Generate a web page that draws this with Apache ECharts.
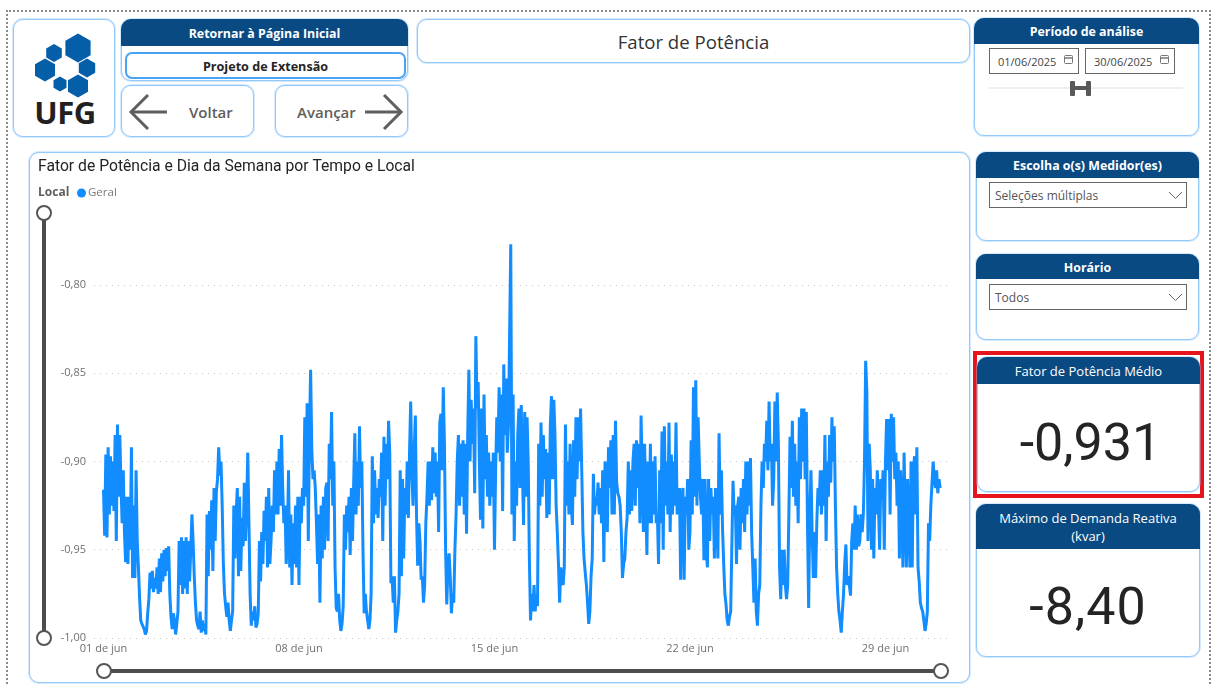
<!DOCTYPE html>
<html lang="pt-BR">
<head>
<meta charset="utf-8">
<title>Fator de Potência</title>
<script src="https://cdn.jsdelivr.net/npm/echarts@6/dist/echarts.min.js"></script>
<style>
html,body{margin:0;padding:0;background:#fff;width:1212px;height:684px;overflow:hidden;font-family:"Open Sans",sans-serif;}
.abs,.panel,.head,.campo{position:absolute;box-sizing:border-box;}
.moldura{position:absolute;left:6px;top:10px;width:1205px;height:690px;border:2px dotted #8a8a8a;box-sizing:border-box;}
.panel{border:1px solid #93c8fb;border-radius:10px;background:#fff;box-shadow:0 0 0 1px rgba(147,200,251,.4);}
.head{left:-1px;right:-1px;top:-1px;background:#0a4a83;color:#fff;border-radius:10px 10px 0 0;text-align:center;font-weight:700;font-size:12.4px;display:flex;align-items:center;justify-content:center;line-height:18px;padding-top:2px;}
.head.leve{font-weight:400;font-size:13px;padding-top:0;}
.campo{border:1px solid #666;border-bottom-width:1.5px;background:#fff;font-size:12px;color:#555;display:flex;align-items:center;padding-left:5px;padding-top:1px;}
.num{position:absolute;left:0;right:0;text-align:center;font-family:Roboto,sans-serif;font-size:52px;color:#252423;line-height:60px;}
#chart{position:absolute;left:29px;top:152px;width:941px;height:531px;}
</style>
</head>
<body>
<div class="moldura"></div>

<div class="panel" style="left:13px;top:19px;width:102px;height:118px">
  <svg id="logo" width="100" height="116" style="position:absolute;left:-1px;top:-1px"></svg>
  <div class="abs" style="left:16px;top:73px;width:70px;text-align:center;font:700 31px/38px 'Open Sans',sans-serif;color:#231f20;letter-spacing:-.5px">UFG</div>
</div>

<div class="panel" style="left:121px;top:19px;width:287px;height:62px">
  <div class="head" style="height:27px">Retornar à Página Inicial</div>
  <div class="abs" style="left:3px;top:32px;width:281px;height:27px;border:2px solid #4aa2f5;border-radius:7px;text-align:center;font-weight:700;font-size:12.6px;line-height:25px;color:#252423">Projeto de Extensão</div>
</div>

<div class="panel" style="left:121px;top:85px;width:133px;height:52px">
  <svg width="40" height="40" style="position:absolute;left:6px;top:6px"><polyline points="20,3 3,20 20,37" fill="none" stroke="#605e5c" stroke-width="3"/><line x1="3" y1="20" x2="39" y2="20" stroke="#605e5c" stroke-width="3"/></svg>
  <div class="abs" style="left:67px;top:15px;font-weight:600;font-size:15px;line-height:22px;color:#605e5c">Voltar</div>
</div>
<div class="panel" style="left:275px;top:85px;width:133px;height:52px">
  <div class="abs" style="left:21px;top:15px;font-weight:600;font-size:15px;line-height:22px;color:#605e5c">Avançar</div>
  <svg width="40" height="40" style="position:absolute;left:88px;top:6px"><polyline points="20,3 37,20 20,37" fill="none" stroke="#605e5c" stroke-width="3"/><line x1="1" y1="20" x2="37" y2="20" stroke="#605e5c" stroke-width="3"/></svg>
</div>

<div class="panel" style="left:417px;top:19px;width:553px;height:44px;text-align:center;font-size:18.6px;line-height:43px;color:#333">Fator de Potência</div>

<div class="panel" style="left:974px;top:18px;width:225px;height:118px">
  <div class="head" style="height:26px">Período de análise</div>
  <div class="campo" style="left:14px;top:29px;width:90px;height:26px;font-size:11px;padding-left:8px;color:#444">01/06/2025</div>
  <div class="campo" style="left:110px;top:29px;width:90px;height:26px;font-size:11px;padding-left:8px;color:#444">30/06/2025</div>
  <svg width="12" height="12" style="position:absolute;left:88px;top:35px"><rect x="1.5" y="1.5" width="8" height="8" rx="1" fill="#fff" stroke="#777"/><line x1="1.5" y1="4" x2="9.5" y2="4" stroke="#777" stroke-width="1.5"/></svg>
  <svg width="12" height="12" style="position:absolute;left:184px;top:35px"><rect x="1.5" y="1.5" width="8" height="8" rx="1" fill="#fff" stroke="#777"/><line x1="1.5" y1="4" x2="9.5" y2="4" stroke="#777" stroke-width="1.5"/></svg>
  <div class="abs" style="left:14px;top:68px;width:194px;height:2px;background:#eeeeee"></div>
  <div class="abs" style="left:95px;top:62px;width:5px;height:15px;background:#595959;border-radius:1px"></div>
  <div class="abs" style="left:111px;top:62px;width:5px;height:15px;background:#595959;border-radius:1px"></div>
  <div class="abs" style="left:98px;top:67px;width:15px;height:4px;background:#595959"></div>
</div>

<div class="panel" style="left:976px;top:152px;width:223px;height:89px">
  <div class="head" style="height:26px">Escolha o(s) Medidor(es)</div>
  <div class="campo" style="left:12px;top:29px;width:198px;height:26px">Seleções múltiplas</div>
  <svg width="16" height="10" style="position:absolute;left:191px;top:38px"><polyline points="1,1 7.5,7.5 14,1" fill="none" stroke="#666" stroke-width="1"/></svg>
</div>

<div class="panel" style="left:976px;top:254px;width:223px;height:86px">
  <div class="head" style="height:25px">Horário</div>
  <div class="campo" style="left:12px;top:29px;width:198px;height:26px">Todos</div>
  <svg width="16" height="10" style="position:absolute;left:191px;top:38px"><polyline points="1,1 7.5,7.5 14,1" fill="none" stroke="#666" stroke-width="1"/></svg>
</div>

<div class="abs" style="left:973px;top:351px;width:231px;height:147px;border:4px solid #e8141c"></div>
<div class="panel" style="left:977px;top:357px;width:223px;height:135px">
  <div class="head leve" style="height:27px">Fator de Potência Médio</div>
  <div class="num" style="top:55px;padding-left:4px">-0,931</div>
</div>

<div class="panel" style="left:976px;top:504px;width:224px;height:153px">
  <div class="head leve" style="height:45px">Máximo de Demanda Reativa<br>(kvar)</div>
  <div class="num" style="top:72px;letter-spacing:1px">-8,40</div>
</div>

<div class="panel" style="left:29px;top:152px;width:941px;height:531px"></div>
<div id="chart"></div>

<script>
// leitura do grafico: uma lista por dia, uma leitura por hora
var dia01=[-.916,-.942,-.896,-.943,-.892,-.930,-.897,-.925,-.900,-.928,-.885,-.945,-.879,-.920,-.885,-.912,-.935,-.905,-.940,-.957,-.920,-.958,-.920,-.950]
var dia02=[-.892,-.966,-.925,-.966,-.905,-.945,-.960,-.977,-.990,-.992,-.993,-.995,-.998,-.996,-.986,-.978,-.963,-.972,-.962,-.974,-.966,-.972,-.960,-.975]
var dia03=[-.955,-.974,-.952,-.968,-.950,-.965,-.949,-.962,-.948,-.975,-.988,-.995,-.986,-.990,-.998,-.992,-.985,-.945,-.970,-.943,-.975,-.945,-.972,-.943]
var dia04=[-.975,-.945,-.968,-.950,-.930,-.945,-.965,-.980,-.990,-.993,-.995,-.985,-.997,-.990,-.996,-.992,-.998,-.930,-.965,-.928,-.950,-.922,-.962,-.915]
var dia05=[-.945,-.917,-.910,-.892,-.908,-.900,-.925,-.958,-.975,-.982,-.988,-.980,-.990,-.996,-.990,-.985,-.925,-.955,-.930,-.915,-.965,-.920,-.962,-.932]
var dia06=[-.948,-.912,-.945,-.925,-.895,-.935,-.975,-.993,-.985,-.990,-.982,-.994,-.992,-.986,-.945,-.968,-.940,-.958,-.928,-.945,-.920,-.960,-.915,-.958]
var dia07=[-.945,-.925,-.940,-.905,-.930,-.900,-.930,-.893,-.925,-.885,-.915,-.935,-.925,-.958,-.945,-.905,-.960,-.930,-.970,-.935,-.958,-.925,-.960,-.920]
var dia08=[-.970,-.920,-.935,-.915,-.925,-.875,-.920,-.867,-.945,-.885,-.848,-.893,-.910,-.905,-.915,-.935,-.958,-.930,-.980,-.925,-.955,-.920,-.950,-.915]
var dia09=[-.912,-.945,-.890,-.910,-.872,-.925,-.900,-.960,-.983,-.985,-.975,-.990,-.996,-.992,-.982,-.930,-.950,-.925,-.940,-.920,-.953,-.915,-.945,-.912]
var dia10=[-.884,-.930,-.900,-.925,-.880,-.915,-.900,-.950,-.986,-.975,-.985,-.990,-.995,-.990,-.975,-.897,-.935,-.905,-.930,-.915,-.932,-.910,-.920,-.895]
var dia11=[-.945,-.886,-.925,-.890,-.910,-.877,-.895,-.969,-.965,-.980,-.965,-.997,-.990,-.985,-.975,-.905,-.965,-.910,-.955,-.915,-.930,-.900,-.932,-.895]
var dia12=[-.866,-.905,-.925,-.895,-.874,-.930,-.959,-.935,-.945,-.967,-.965,-.980,-.970,-.935,-.920,-.900,-.925,-.900,-.922,-.892,-.918,-.895,-.920,-.900]
var dia13=[-.940,-.878,-.873,-.905,-.858,-.890,-.950,-.981,-.960,-.952,-.965,-.986,-.975,-.980,-.950,-.930,-.900,-.885,-.925,-.890,-.920,-.888,-.930,-.890]
var dia14=[-.941,-.885,-.848,-.900,-.865,-.890,-.870,-.918,-.829,-.870,-.855,-.900,-.933,-.870,-.938,-.862,-.910,-.885,-.920,-.895,-.925,-.900,-.920,-.895]
var dia15=[-.950,-.905,-.875,-.895,-.858,-.900,-.862,-.928,-.845,-.885,-.853,-.895,-.880,-.880,-.777,-.930,-.862,-.945,-.900,-.925,-.885,-.870,-.915,-.868]
var dia16=[-.905,-.936,-.872,-.920,-.875,-.900,-.955,-.990,-.975,-.985,-.970,-.985,-.975,-.982,-.890,-.925,-.878,-.920,-.885,-.910,-.893,-.932,-.895,-.930]
var dia17=[-.880,-.863,-.910,-.865,-.885,-.925,-.940,-.958,-.980,-.960,-.965,-.970,-.960,-.879,-.925,-.900,-.930,-.890,-.925,-.936,-.888,-.920,-.875,-.910]
var dia18=[-.875,-.900,-.870,-.905,-.940,-.955,-.963,-.970,-.980,-.992,-.985,-.965,-.955,-.907,-.930,-.920,-.925,-.912,-.930,-.915,-.935,-.905,-.957,-.900]
var dia19=[-.905,-.940,-.892,-.915,-.888,-.930,-.885,-.930,-.877,-.912,-.918,-.920,-.925,-.940,-.966,-.958,-.955,-.940,-.932,-.900,-.930,-.905,-.928,-.900]
var dia20=[-.890,-.925,-.888,-.915,-.890,-.935,-.874,-.910,-.940,-.890,-.920,-.953,-.900,-.935,-.890,-.935,-.900,-.930,-.897,-.935,-.930,-.958,-.905,-.935]
var dia21=[-.883,-.950,-.880,-.925,-.900,-.930,-.878,-.940,-.896,-.930,-.900,-.925,-.878,-.930,-.920,-.915,-.967,-.920,-.915,-.967,-.920,-.930,-.910,-.950]
var dia22=[-.940,-.888,-.930,-.858,-.920,-.854,-.925,-.875,-.900,-.920,-.930,-.910,-.956,-.910,-.950,-.960,-.910,-.945,-.915,-.930,-.920,-.955,-.915,-.930]
var dia23=[-.955,-.884,-.930,-.905,-.938,-.958,-.975,-.981,-.990,-.993,-.988,-.985,-.985,-.911,-.930,-.925,-.958,-.925,-.920,-.950,-.915,-.935,-.910,-.940]
var dia24=[-.900,-.930,-.900,-.925,-.898,-.940,-.960,-.980,-.955,-.985,-.993,-.975,-.970,-.925,-.900,-.915,-.890,-.900,-.877,-.905,-.866,-.900,-.890,-.925]
var dia25=[-.910,-.866,-.900,-.861,-.890,-.960,-.978,-.950,-.970,-.950,-.970,-.978,-.970,-.930,-.886,-.915,-.877,-.920,-.890,-.925,-.900,-.935,-.875,-.910]
var dia26=[-.870,-.900,-.870,-.910,-.872,-.935,-.983,-.930,-.905,-.940,-.966,-.940,-.966,-.935,-.915,-.925,-.905,-.930,-.905,-.925,-.885,-.945,-.900,-.920]
var dia27=[-.885,-.912,-.875,-.900,-.880,-.925,-.960,-.975,-.985,-.990,-.997,-.985,-.975,-.958,-.947,-.970,-.965,-.970,-.976,-.945,-.935,-.950,-.925,-.950]
var dia28=[-.930,-.948,-.945,-.930,-.940,-.930,-.900,-.843,-.860,-.945,-.890,-.905,-.950,-.910,-.955,-.915,-.930,-.905,-.925,-.950,-.910,-.920,-.905,-.950]
var dia29=[-.900,-.876,-.905,-.876,-.930,-.873,-.900,-.875,-.910,-.895,-.925,-.900,-.955,-.905,-.925,-.960,-.895,-.930,-.960,-.910,-.930,-.960,-.900,-.960]
var dia30=[-.905,-.897,-.930,-.892,-.960,-.968,-.980,-.983,-.985,-.990,-.996,-.992,-.985,-.935,-.945,-.925,-.925,-.900,-.910,-.915,-.905,-.918,-.910,-.915]
var dias=[dia01,dia02,dia03,dia04,dia05,dia06,dia07,dia08,dia09,dia10,dia11,dia12,dia13,dia14,dia15,dia16,dia17,dia18,dia19,dia20,dia21,dia22,dia23,dia24,dia25,dia26,dia27,dia28,dia29,dia30]
var ticksX=[0,7,14,21,28]
var rotulosX=['01 de jun','08 de jun','15 de jun','22 de jun','29 de jun']
var rotulosY=[-1,-.95,-.9,-.85,-.8]

// logo
var hexas=[[78,48,14.5],[54,53,9],[45,70,11.5],[87,68,9.5],[60,84,7.5],[78,86,11.5]]
var svgLogo=''
hexas.forEach(function(h){
    var pts=[]
    for(var i=0;i<6;i++){
        var a=Math.PI/3*i+Math.PI/6
        pts.push((h[0]-13+h[2]*Math.cos(a)).toFixed(1)+','+(h[1]-19+h[2]*Math.sin(a)).toFixed(1))
    }
    svgLogo+='<polygon points="'+pts.join(' ')+'" fill="#045ea8"/>'
})
document.getElementById('logo').innerHTML=svgLogo

// x em dias desde 01/06
var linha=[]
dias.forEach(function(lista,d){
    lista.forEach(function(v,h){
        linha.push([d+h/24,v])
    })
})

var chart=echarts.init(document.getElementById('chart'))
chart.setOption({
    animation:false,
    textStyle:{fontFamily:'"Open Sans",sans-serif'},
    title:{
        text:'Fator de Potência e Dia da Semana por Tempo e Local',
        left:4,top:2,
        textStyle:{fontFamily:'Roboto,sans-serif',fontWeight:400,fontSize:15.7,color:'#252423'}
    },
    legend:{
        data:['Geral'],
        left:43,top:30,
        icon:'circle',itemWidth:9,itemHeight:9,itemGap:3,
        textStyle:{fontSize:11.5,color:'#7a7a7a',padding:[0,0,0,-3]}
    },
    graphic:[{
        type:'text',left:9,top:35,
        style:{text:'Local',font:'700 12px "Open Sans",sans-serif',fill:'#605e5c'}
    }],
    grid:{left:65,top:80,width:854,height:406},
    xAxis:{
        type:'value',
        min:-.34,max:30.24,
        axisLine:{show:false},
        axisTick:{show:false},
        splitLine:{show:false},
        axisLabel:{
            customValues:ticksX,
            margin:5,fontSize:11,color:'#6f6f6f',
            formatter:function(v){return rotulosX[ticksX.indexOf(v)]}
        }
    },
    yAxis:{
        type:'value',
        min:-1,max:-.77,
        axisLine:{show:false},
        axisTick:{show:false},
        splitLine:{show:true,showMaxLine:false,lineStyle:{type:[1,5],color:'#c8c8c8',width:1}},
        axisLabel:{
            customValues:rotulosY,
            margin:8,fontSize:11,color:'#6f6f6f',
            formatter:function(v){return v.toFixed(2).replace('.',',')}
        }
    },
    dataZoom:[{
        type:'slider',xAxisIndex:0,filterMode:'none',
        left:72,width:839,top:517,height:4,
        showDetail:false,showDataShadow:false,brushSelect:false,
        moveHandleSize:0,
        handleIcon:'circle',handleSize:14,
        handleStyle:{color:'#fff',borderColor:'#555',borderWidth:2},
        fillerColor:'#4d4d4d',backgroundColor:'#4d4d4d',borderColor:'transparent'
    },{
        type:'slider',yAxisIndex:0,orient:'vertical',filterMode:'none',
        left:12,width:4,top:60,height:427,
        showDetail:false,showDataShadow:false,brushSelect:false,
        moveHandleSize:0,
        handleIcon:'circle',handleSize:14,
        handleStyle:{color:'#fff',borderColor:'#555',borderWidth:2},
        fillerColor:'#4d4d4d',backgroundColor:'#4d4d4d',borderColor:'transparent'
    }],
    series:[{
        name:'Geral',
        type:'line',
        data:linha,
        showSymbol:false,
        symbol:'none',
        itemStyle:{color:'#118DFF'},
        lineStyle:{color:'#118DFF',width:3}
    }]
})
</script>
</body>
</html>
